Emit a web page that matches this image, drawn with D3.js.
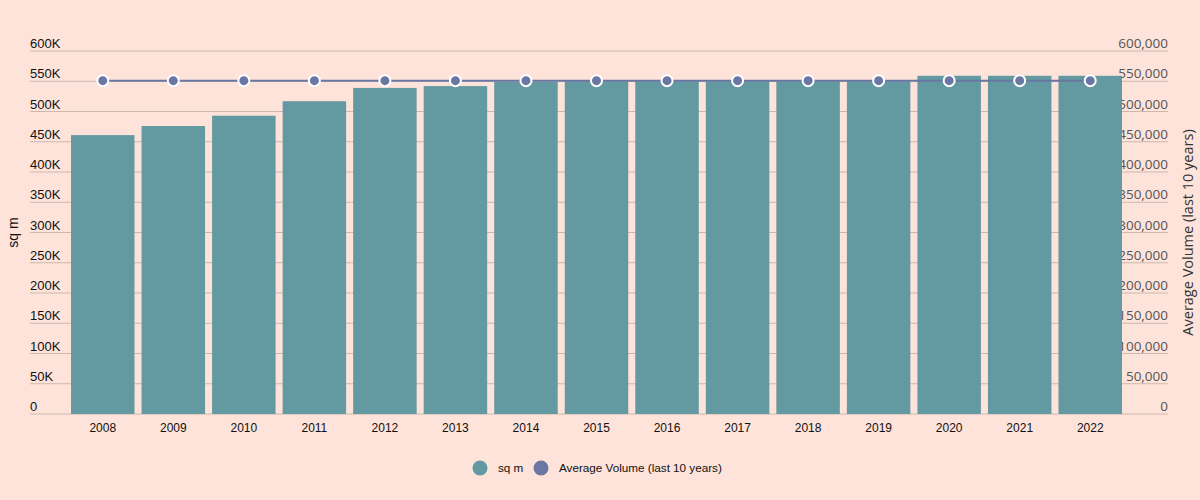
<!DOCTYPE html>
<html lang="en">
<head>
  <meta charset="UTF-8" />
  <title>sq m vs Average Volume</title>
  <style>
    body { margin: 0; background: #fde3da; }
    svg { display: block; font-family: 'Liberation Sans', Arial, sans-serif; }
    .right-axis text { font-family: 'Open Sans', sans-serif; fill: #555; }
  </style>
</head>
<body>
  <svg id="chart" width="1200" height="500"></svg>
  <script src="https://d3js.org/d3.v7.min.js"></script>
  <script>
    // data
    const years = ["2008","2009","2010","2011","2012","2013","2014","2015",
                   "2016","2017","2018","2019","2020","2021","2022"];
    const sqm = [461000, 476000, 493000, 517000, 539000, 542000, 549000, 550000,
                 550000, 550000, 550000, 550000, 559000, 559000, 559000];
    const avgVolume = [551000, 551000, 551000, 551000, 551000, 551000, 551000, 551000,
                       551000, 551000, 551000, 551000, 551000, 551000, 551000];
    const tickValues = [0, 50000, 100000, 150000, 200000, 250000, 300000,
                        350000, 400000, 450000, 500000, 550000, 600000];

    const barColor = "#6399a0";
    const lineColor = "#6b77a3";
    const gridColor = "#cdb8ae";

    const svg = d3.select("#chart");
    const gridLeft = 30, gridRight = 1168;
    const plotTop = 51, plotBottom = 414;

    const x = d3.scaleBand()
      .domain(years)
      .range([67.5, 1125.5])
      .paddingInner(0.1)
      .paddingOuter(0.05);

    const y = d3.scaleLinear().domain([0, 600000]).range([plotBottom, plotTop]);
    const y2 = d3.scaleLinear().domain([0, 600000]).range([plotBottom, plotTop]);

    // gridlines
    svg.append("g")
      .selectAll("line")
      .data(tickValues)
      .join("line")
      .attr("x1", gridLeft)
      .attr("x2", gridRight)
      .attr("y1", d => y(d))
      .attr("y2", d => y(d))
      .attr("stroke", gridColor)
      .attr("stroke-width", 1);

    // left axis labels
    const fmtK = d => d === 0 ? "0" : (d / 1000) + "K";
    svg.append("g")
      .attr("transform", `translate(${gridLeft},0)`)
      .call(d3.axisLeft(y).tickValues(tickValues).tickFormat(fmtK).tickSize(0))
      .call(g => g.select(".domain").remove())
      .selectAll("text")
      .attr("x", 0)
      .attr("dy", -3.5)
      .attr("text-anchor", "start")
      .attr("fill", "#111")
      .attr("font-size", 13);

    // right axis labels (sit behind the bars)
    svg.append("g")
      .attr("class", "right-axis")
      .attr("transform", `translate(${gridRight},0)`)
      .call(d3.axisRight(y2).tickValues(tickValues).tickFormat(d3.format(",")).tickSize(0))
      .call(g => g.select(".domain").remove())
      .selectAll("text")
      .attr("x", 0)
      .attr("dy", -3.5)
      .attr("text-anchor", "end")
      .attr("font-size", 13.5);

    // bars
    svg.append("g")
      .selectAll("rect")
      .data(years)
      .join("rect")
      .attr("x", d => x(d))
      .attr("width", x.bandwidth())
      .attr("y", (d, i) => y(sqm[i]))
      .attr("height", (d, i) => plotBottom - y(sqm[i]))
      .attr("fill", barColor);

    // x axis labels
    svg.append("g")
      .attr("transform", `translate(0,${plotBottom})`)
      .call(d3.axisBottom(x).tickSize(0))
      .call(g => g.select(".domain").remove())
      .selectAll("text")
      .attr("dy", 15)
      .attr("fill", "#111")
      .attr("font-size", 12);

    // line
    const cx = d => x(d) + x.bandwidth() / 2;
    const line = d3.line()
      .x(d => cx(d))
      .y((d, i) => y2(avgVolume[i]));
    svg.append("path")
      .datum(years)
      .attr("d", line)
      .attr("fill", "none")
      .attr("stroke", lineColor)
      .attr("stroke-width", 2);

    svg.append("g")
      .selectAll("circle")
      .data(years)
      .join("circle")
      .attr("cx", d => cx(d))
      .attr("cy", (d, i) => y2(avgVolume[i]))
      .attr("r", 5.5)
      .attr("fill", lineColor)
      .attr("stroke", "#fff")
      .attr("stroke-width", 2);

    // axis titles
    svg.append("text")
      .attr("transform", `translate(18,${(plotTop + plotBottom) / 2}) rotate(-90)`)
      .attr("text-anchor", "middle")
      .attr("font-size", 14)
      .attr("fill", "#111")
      .text("sq m");

    svg.append("text")
      .attr("transform", `translate(1193,${(plotTop + plotBottom) / 2}) rotate(-90)`)
      .attr("text-anchor", "middle")
      .attr("font-family", "'Open Sans', sans-serif")
      .attr("font-size", 14.5)
      .attr("fill", "#333")
      .text("Average Volume (last 10 years)");

    // legend
    const legendItems = [
      { label: "sq m", color: barColor, x: 480 },
      { label: "Average Volume (last 10 years)", color: lineColor, x: 541 }
    ];
    const legend = svg.append("g").attr("transform", "translate(0,468)");
    legend.selectAll("circle")
      .data(legendItems)
      .join("circle")
      .attr("cx", d => d.x)
      .attr("cy", 0)
      .attr("r", 7.5)
      .attr("fill", d => d.color);
    legend.selectAll("text")
      .data(legendItems)
      .join("text")
      .attr("x", d => d.x + 18)
      .attr("y", 0)
      .attr("dy", "0.35em")
      .attr("font-size", 11.7)
      .attr("fill", "#111")
      .text(d => d.label);
  </script>
</body>
</html>
